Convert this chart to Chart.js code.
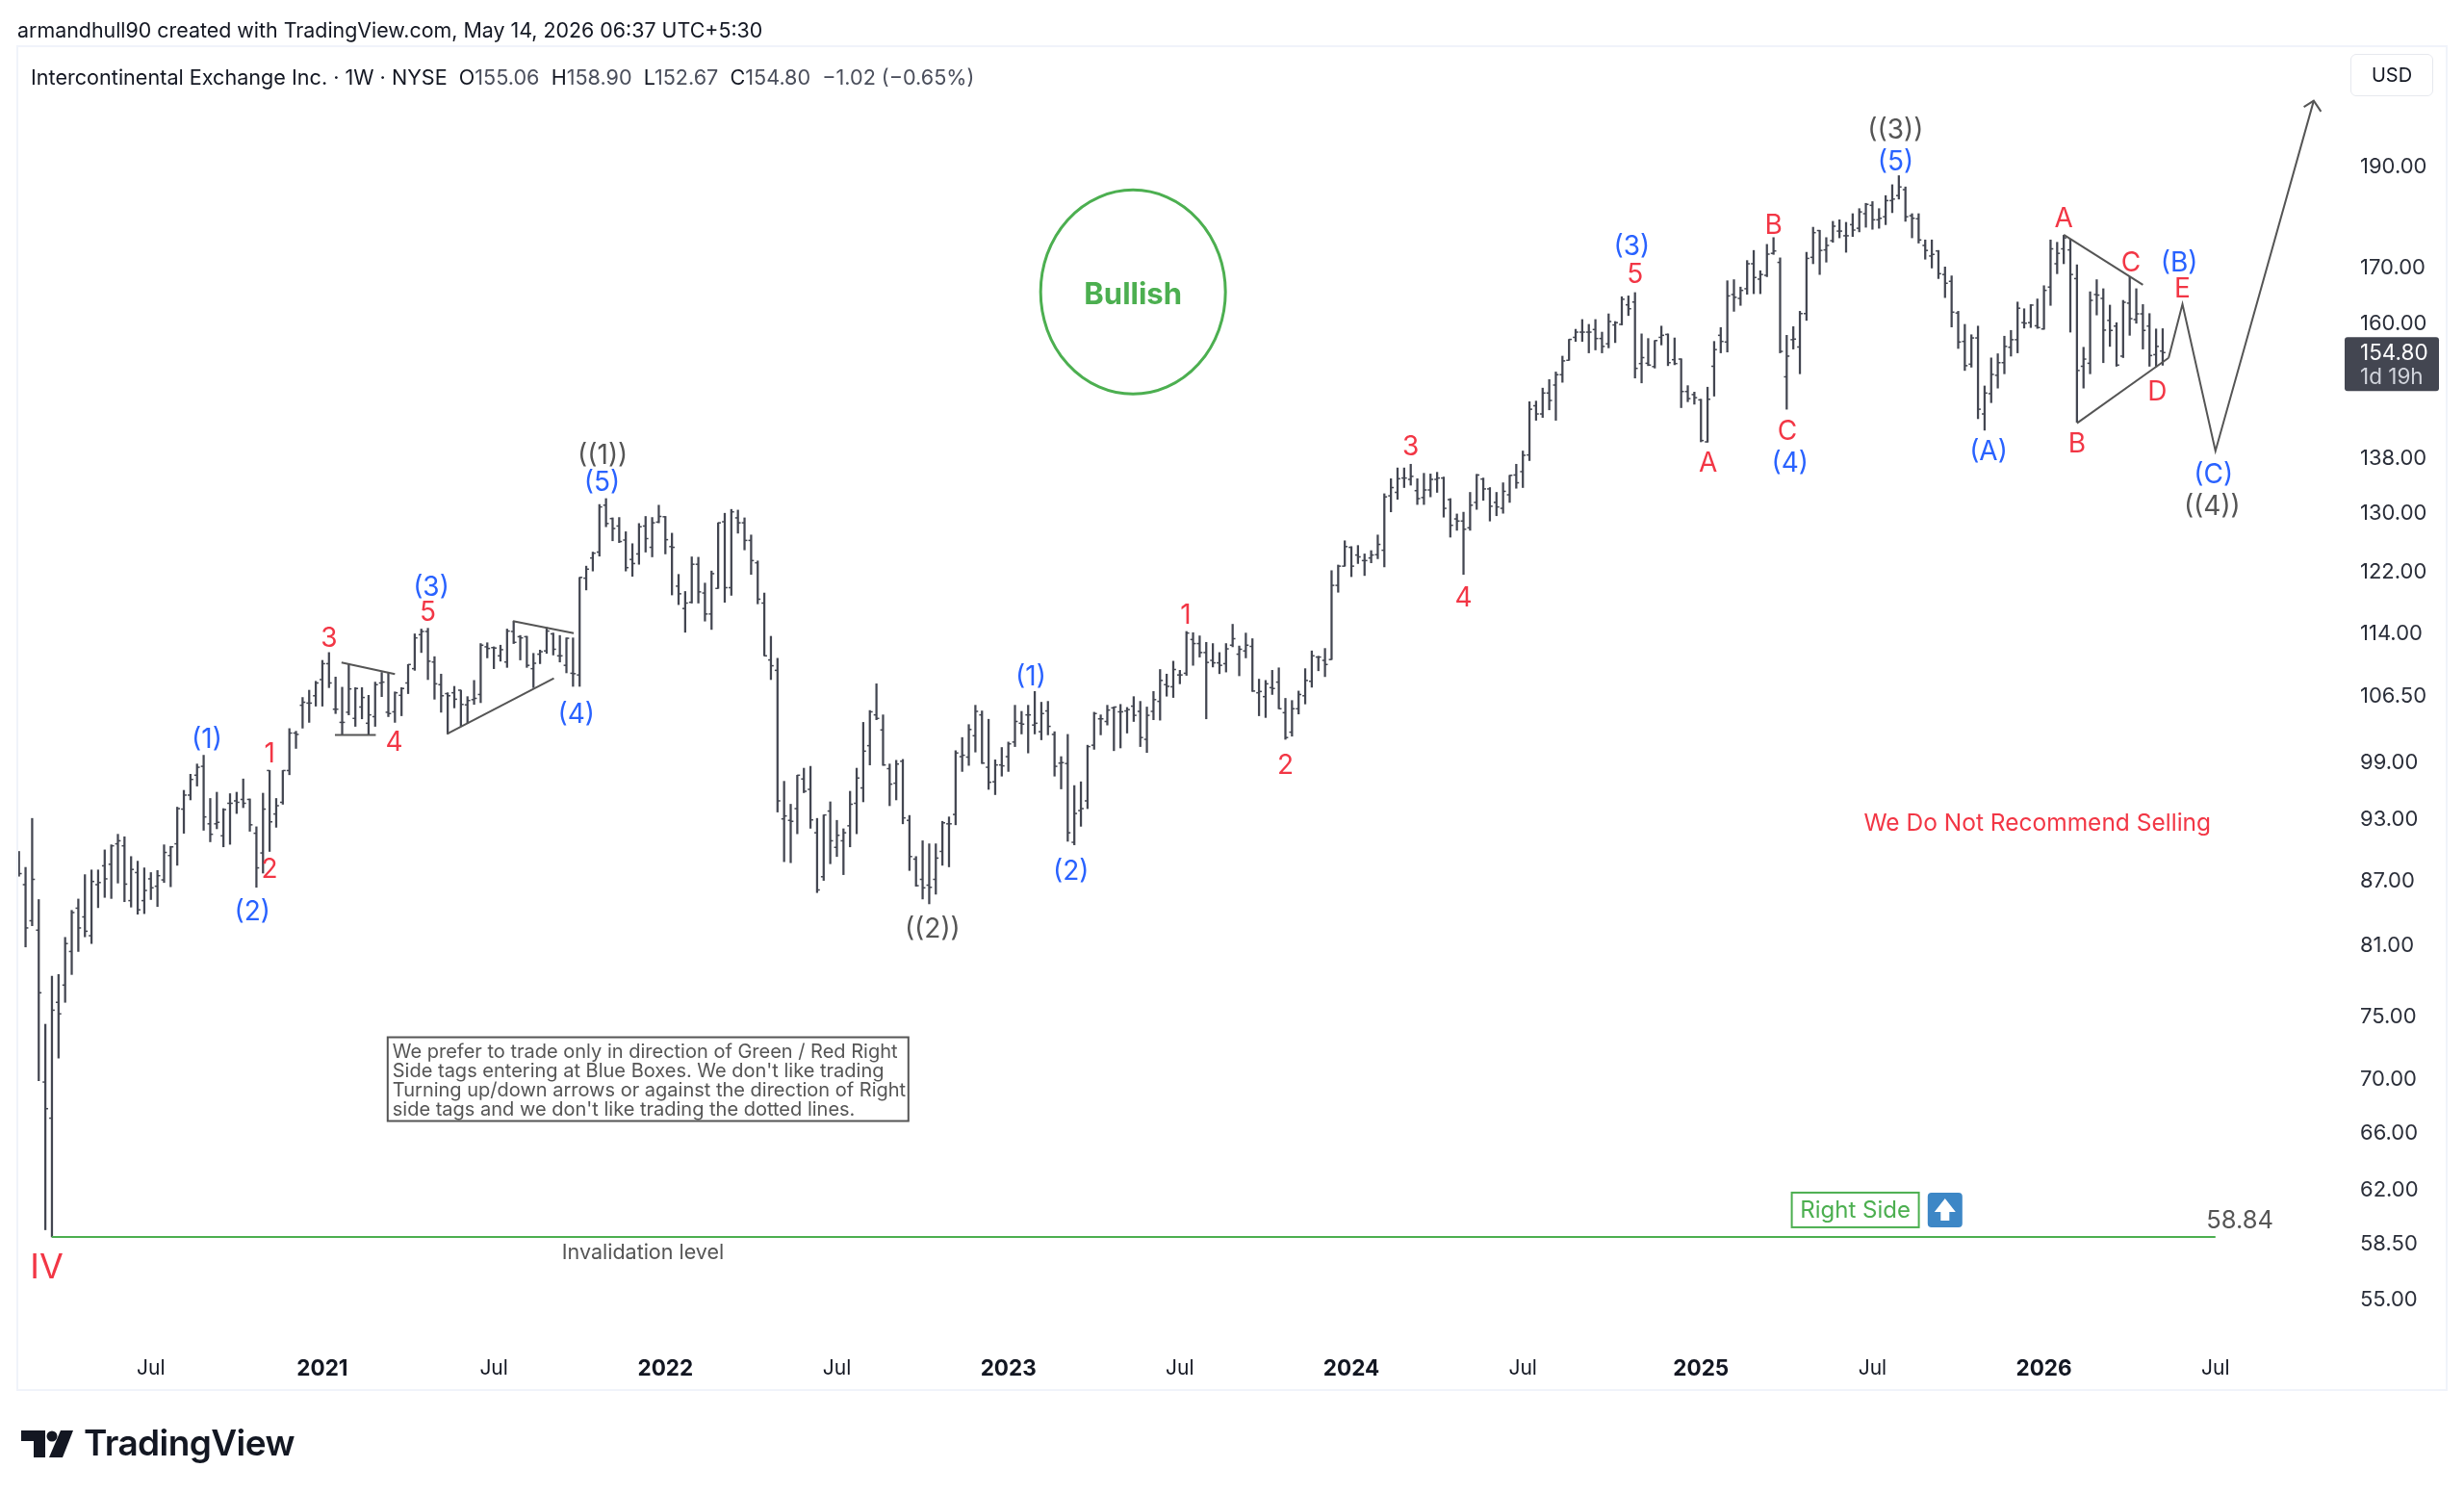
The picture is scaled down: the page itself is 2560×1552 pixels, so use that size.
<!DOCTYPE html>
<html>
<head>
<meta charset="utf-8">
<title>ICE 1W</title>
<script src="https://cdn.jsdelivr.net/npm/chart.js@4/dist/chart.umd.min.js"></script>
<style>
html, body { margin: 0; padding: 0; background: #fff; width: 2560px; height: 1552px; overflow: hidden; font-family: Inter, sans-serif; }
canvas { position: absolute; left: 0; top: 0; }
.abs { position: absolute; white-space: pre; line-height: 1; }
.val { color: #4a4e5b; }
</style>
</head>
<body>
<canvas id="iceChart" width="2560" height="1552"></canvas>
<div class="abs" style="left:18px;top:21px;font-size:21.4px;color:#131722">armandhull90 created with TradingView.com, May 14, 2026 06:37 UTC+5:30</div>
<div class="abs" style="left:32px;top:70px;font-size:21.6px;color:#131722">Intercontinental Exchange Inc. · 1W · NYSE  O<span class="val">155.06</span>  H<span class="val">158.90</span>  L<span class="val">152.67</span>  C<span class="val">154.80</span>  <span class="val">−1.02 (−0.65%)</span></div>
<div class="abs" style="left:2442px;top:56px;width:86px;height:44px;border:1px solid #e6e8ee;border-radius:6px;box-sizing:border-box;font-size:20px;line-height:42px;text-align:center;color:#131722">USD</div>
<svg style="position:absolute;left:22px;top:1486px" width="54" height="28" viewBox="0 0 54 28">
  <path d="M0 0H25V28H13V11H0Z" fill="#131722"/>
  <circle cx="32" cy="6" r="5.5" fill="#131722"/>
  <path d="M41 0H54L43 28H29Z" fill="#131722"/>
</svg>
<div class="abs" style="left:87px;top:1480px;font-size:37px;font-weight:600;letter-spacing:-0.6px;color:#131722">TradingView</div>

<script>
// weekly bars, index 0 = week of 17 Feb 2020
var highs = [
89.7,88.15,93,85.1,74.25,78.25,78.4,81.65,84.1,85.15,
87.45,87.9,87.9,89.85,90.35,91.4,91.15,89.2,88.75,88.1,
87.65,87.85,90.35,90.2,94.15,95.9,97.6,98.7,99.65,95.05,
95.7,94,95.55,95.7,97.1,95,92.15,95.6,98,95.05,
98,102.6,102.3,106.15,107,108.05,110.55,111.5,108.55,107.35,
110.05,107.3,107.3,106.4,107.95,109.1,109,106.8,107.3,110.05,
113.8,114.4,114.5,111,108.9,106.7,107.45,107,106.25,108.15,
112.6,112.7,112.2,112.4,114.4,115.4,113.6,113.5,111.4,111.8,
114.6,113.9,113.6,113.3,113.3,121.05,122.55,124.45,131.1,131.95,
129.2,129.25,127.25,125.6,128.4,129.4,129.25,131,129.4,127.05,
121.45,119.2,123.8,123.75,120.3,121.9,128.5,129.85,130.4,130.3,
129.2,126.8,123.25,119,113.5,110.8,96.85,94.45,97.5,98.25,
98.45,93,93.35,94.7,92.8,91.95,95.8,98.25,103.3,104.65,
107.75,104.15,98.7,99.1,99.2,93.3,89.2,90.75,90.45,90.45,
92.7,93.15,100.15,101.6,103.05,105.25,104.6,103.65,99.15,100.5,
101.1,105.25,104.55,105.25,106.85,105.6,105.7,102.25,99.5,101.95,
96.4,96.8,100.75,104.45,104.15,105.25,105.05,105.35,105,106.25,
105.7,105.05,106.85,109.45,108.9,110.45,109.35,114.1,113.95,113.55,
112.75,112.6,111.5,112.6,115,112.3,113.9,113.2,108.3,108.15,
109.35,109.65,106.05,105.8,106.9,109.55,111.7,111.05,112,121.95,
122.7,126,125.2,125.35,124.2,124.65,126.8,132.65,134.85,136.45,
136.45,137,134.85,135.65,135.55,135.8,135.1,131.95,129.75,130,
132.85,135.5,134.95,133.55,132.85,134.25,135.35,137,139,146.7,
146.8,148.9,150.3,151.55,154.2,157.05,158.8,160.5,159.65,160.5,
158.3,161.5,160.15,164.55,164.7,165.3,158,157.2,156.85,159.35,
158,157.3,153.75,149.3,148.25,147.1,149.05,156.7,159.1,167.45,
167.65,166.3,171.2,173.1,169.3,174.25,175.55,171.7,157.75,159.25,
161.95,172.75,177.55,176.95,175.55,178.7,179,178.5,180.2,181.2,
182.25,182.6,181.2,183.8,186,187.85,185.55,180.2,180.2,175.1,
175.1,173.1,170,168.35,161.95,159.65,157.85,159.35,149.25,153.9,
154.6,157.6,158.6,163.6,162.4,163.15,164.15,166.55,175.1,174.65,
176,175.25,170.4,155.7,165.45,167.65,166,163.05,159.95,163.9,
168.2,166,163.15,161.55,158.85,158.9
];
var lows = [
87.3,80.8,82.7,69.8,59.3,58.84,71.55,76.05,78.4,80.4,
81.7,81.1,84.35,85.3,85.2,86.65,84.9,84.4,83.75,83.8,
85.1,84.45,86.7,86.3,88.35,91.5,94.9,96.35,91.8,90.65,
91.95,90.15,90.4,93.5,94.1,91.7,86.25,87.6,89.7,92.1,
94.45,97.55,100.4,102.65,103.3,105.15,105.15,107.3,104.3,101.9,
104.15,102.85,103.7,101.9,102.85,106.25,103.95,103.3,104.05,106.6,
109.35,111.5,108.25,105.95,104.45,102,104.95,102.85,103.2,105.35,
105.55,110.85,109.55,110.45,109.7,112.6,110.6,109.7,107.3,110.15,
111.4,111.2,110.35,109.05,107.45,107.45,119.4,121.9,123.9,127.95,
126,125.75,121.9,121.2,122.8,124.45,123.8,128.5,124.2,118.75,
117.5,114,117.7,117.7,115.4,114.35,119.6,117.8,118.7,127.05,
124.75,121.45,117.6,111.1,108.25,93.65,88.7,88.6,91.45,95.65,
92,85.75,86.9,88.5,89.2,87.45,90.15,91.45,94.7,98.6,
103.6,98.55,94.3,94.9,92.45,87.85,86.35,85.15,84.7,85.6,
88.35,88.2,92.35,97.9,98.55,100,98.75,96,95.45,97.4,
97.9,100.6,102,99.9,102,101.35,101.9,97.4,96.05,90.7,
90.35,92.2,94,100.3,101.9,103,100.15,100.45,102.1,103.4,
100.6,99.95,103.6,103.55,106.3,106.15,107.75,108.75,109.95,110.95,
103.7,109.75,108.95,109.15,112.2,108.7,110.85,106.85,104.05,103.85,
106.5,104.85,101.4,101.75,104.25,105.4,107.35,109.3,108.6,110.65,
119.1,122.55,121.15,122.9,121.3,123,123.55,122.45,130.05,131.85,
133.55,133.9,131.1,131.1,132.2,132.85,129.3,126.5,127.45,121.45,
127.45,130.4,131.7,128.75,129.5,129.85,131.4,133.45,133.55,137.55,
143.75,144.2,145.4,143.75,149.85,153.5,156.7,156.7,154.75,155.25,
154.75,155.6,156.5,159.55,161.2,150.55,149.75,152.6,152.2,156.1,
152.6,152.75,145.75,146.7,146.3,140.4,140.35,147.6,154.75,154.9,
161.95,163,165,165.1,165.1,168.2,172.35,154.75,145.5,155.4,
151.25,160.35,170.6,168.6,170.9,174.65,175.5,172.75,175.75,176.65,
177.55,177.15,177.35,178.05,180.4,183.1,178.7,175.5,174.5,171.45,
169.8,167.85,164.4,159.2,155.5,151.8,152.35,144,142.2,146.55,
148.9,151.25,154.2,154.75,159,159.1,158.95,158.8,163,168.75,
170.6,158.3,143.45,148.9,151.25,161.3,153.1,155.85,152.5,153.95,
157.75,159.85,155.4,152.5,152.4,152.67
];
var opens = [
88.6,86.5,83.15,82.3,69.7,67,76.05,77.5,80.4,84.3,
83.5,81.8,86.5,88.3,88.45,90.45,90.25,85,87.65,85,
87.05,86.35,86.95,89.3,90.45,93.95,95.4,97.5,98.45,92.45,
92.45,91.25,94.55,94.8,94.95,94.95,91.5,89.55,98,93.45,
94.65,98,102.1,105.25,105.5,106.35,108.25,110.15,104.8,103.3,
104.45,103.75,105.05,103.2,103.95,107.85,104.45,104.5,106.4,107.85,
109.55,113.7,114.1,110.35,107.65,106.6,106.7,107,105.3,105.9,
106.5,112.2,112.1,111.1,110.35,114.1,113.45,113.45,109.55,111.3,
111.7,113.8,111.1,109.95,109,108.8,120.95,123.65,124.45,131,
129.1,128.05,126.1,123.45,124.2,128.05,125.1,128.6,129.35,125.2,
119.9,117,117.8,122.8,119,116.3,119.6,128.65,119.7,129.2,
128.5,126.05,123,117.7,110.6,109.35,92.95,92.8,94,97.1,
96,91.55,87.25,93.75,90.1,90.75,92.25,94.55,96.15,100.7,
104.15,102.45,98.2,96.65,99,92.8,88.95,87,86.45,87,
89.7,92.45,93.4,99.5,99.45,101.8,104.15,98.35,96.8,98.6,
99.5,101.1,103.2,104.15,103,102.25,104.6,101.95,98.8,98.75,
90.6,93.8,94.8,100.75,103.7,103.4,104.95,104.5,104.6,105.15,
104.55,101.4,104.55,105.7,107.65,107.4,108.8,109,113.1,112.6,
111.5,110.55,110.25,110.15,112.4,111.3,111.7,112.25,106.7,106.25,
107.3,107.95,104.4,102.2,104.85,106.35,108.05,110.95,110.55,110.65,
120,122.55,125.1,124.05,123.3,123.65,124.1,124.7,132.35,132.85,
134.95,134.75,133.1,132.1,133.2,134.75,134.95,131.8,129.05,128.75,
127.8,131.4,134.8,133.35,131.4,130.55,132.5,135.4,135.9,138.4,
146.05,144.75,148.1,149.4,151.1,153.5,157.4,158.3,158.3,158.75,
157.2,156.3,159.55,159.65,163.1,163.6,152.95,153,152.45,157.4,
157.9,153.6,153.7,148.35,147.85,147,140.4,152.5,157.75,156.6,
164.95,164.25,166,170.6,167.75,168.45,172.55,170.85,150.75,157,
155.75,161.55,171.8,176.9,173.2,174.96,176.8,175.9,178.05,177.35,
180.2,181.85,179,179.6,182.8,183.8,185,179.8,179.2,174.05,
172.05,173,168.6,167.35,161.65,156.7,152.85,157.3,144.75,148,
151,153.1,155.7,157,159.95,159.95,159.4,158.85,166.3,170.6,
173.4,173.2,167.85,152.5,153,164.95,164.25,160.35,159.35,154.2,
163.4,160.5,161.5,159.35,154.45,155.06
];
var closes = [
87.55,82.5,87,76.85,67.7,75.4,75.1,81.1,83.9,82.5,
82.2,86.8,86.7,87.05,90.25,90.75,86.55,87.95,84.15,85.95,
86.2,87.35,89.6,90.15,94,95.4,97.05,98.35,93.15,91.4,
92.6,93.9,94.55,94.65,94.55,92.35,88.1,93.95,92.65,94.3,
98,102.1,101.95,105.6,105.5,107.85,110.15,107.85,104.8,103.3,
107.15,107.2,106.15,104.15,107.65,107.95,104.3,106.7,107.2,110.05,
113.3,114.1,110.45,107.75,106.35,106.35,105.95,105.35,105.8,106.05,
112.4,112,112.05,111.85,114.15,112.75,113.3,109.95,110.2,111.6,
114.15,111.9,111.1,113.25,108.95,121.05,122.15,124.3,130.75,128.4,
127.7,125.9,122.35,122.9,127.95,126.3,128.5,129.4,126.15,125.1,
118.9,117.7,122.8,119.15,116.3,121.55,128.5,119.7,130.05,128.5,
126.05,123.3,118.2,111.1,109.9,94.8,93.25,92.7,97.5,95.8,
92.85,86,93.35,90.75,91.3,91.55,94.45,97.2,100.1,104.5,
103.75,98.6,96.55,98.7,93.05,89.2,86.4,86.2,86.25,89.05,
92.55,92.45,99.9,99.65,102.5,104.55,98.8,96.75,98.6,98.5,
100.9,103.4,103.1,104.15,103.2,104.3,102.85,98.45,98.85,91.55,
93.5,94,100.6,104.3,103.7,104.7,105.05,104.5,104.75,104.1,
101.6,104.1,105.9,108.15,107.45,109.45,108.8,113.9,112.6,111.5,
110.3,110.25,109.95,111.95,113.2,111.9,112.4,106.9,106.85,107.75,
107.2,104.85,101.6,104.85,106.5,108.15,111.1,110.95,110.05,120,
122.55,125.2,122.55,123.8,123.3,124.05,125.5,132.2,133.55,134.85,
134.95,135.2,131.95,133.2,134.75,134.95,130.55,128.15,128.75,127.6,
131,135.4,133.35,130.85,130.75,133,135.35,134.25,138.35,145.5,
144.75,148.1,146.9,151.1,153.4,157.05,158.3,158.3,158.3,157.2,
155.85,160.15,159.95,164.1,162.4,152.15,153.95,152.7,156.85,157.75,
153.1,152.95,148.35,147.2,147.35,140.6,147.1,155.3,156.7,164.7,
164.45,165.7,170.6,168.05,168.6,172.4,173,155,154.2,157.1,
161.55,171.6,176.5,173.1,174.05,177.75,176.8,175.9,177,180.55,
182.05,179,179.3,182.8,183.1,185.55,179.6,179.3,175.1,173.1,
172.35,168.75,167,161.8,156.6,152.6,157.3,145.5,148.1,151.15,
153.1,155.85,157,162.5,159.85,163.05,159.1,165.7,173.4,172.55,
175.5,168.6,151.8,153.7,163.9,164.85,158.65,158.6,152.7,163.55,
160.65,161.5,158.6,154.3,155.85,154.8
];

var priceTicks = [190, 170, 160, 138, 130, 122, 114, 106.5, 99, 93, 87, 81, 75, 70, 66, 62, 58.5, 55];
var timeTicks = [20, 46, 72, 98, 124, 150, 176, 202, 228, 255, 281, 307, 333];
var timeTickLabels = ['Jul', '2021', 'Jul', '2022', 'Jul', '2023', 'Jul', '2024', 'Jul', '2025', 'Jul', '2026', 'Jul'];

var lastPrice = 154.80;
var invalidationPrice = 58.84;

// drawn lines as [week index, price]
var invalidationLine = [[4.98, 58.84], [333, 58.84]];
var triangle1Top = [[48.9, 110.3], [57, 108.9]];
var triangle1Base = [[47.9, 101.9], [54.1, 101.9]];
var triangle2Top = [[74.9, 115.4], [84.1, 113.9]];
var triangle2Base = [[64.9, 102], [81.1, 108.4]];
var triangle3Top = [[310, 176.1], [322, 166.7]];
var triangle3Base = [[312, 143.3], [325.9, 153.9]];
var forecastPath = [[325.9, 153.9], [328, 163.2], [333, 139], [347.9, 203.9]];
var arrowHead = [[346.4, 202.5], [347.9, 203.9], [349, 201.5]];

// wave labels
var blueLabels = [
    ['(5)', 88.4, 134.5], ['(1)', 28.5, 101.6], ['(2)', 35.4, 84.1], ['(3)', 62.5, 120], ['(4)', 84.5, 104.4],
    ['(1)', 153.4, 108.7], ['(2)', 159.5, 87.9], ['(3)', 244.5, 174.2], ['(4)', 268.5, 137.45], ['(5)', 284.5, 191],
    ['(A)', 298.6, 139.2], ['(B)', 327.5, 171.1], ['(C)', 332.7, 135.7]
];
var redLabels = [
    ['1', 38, 100], ['2', 38, 88.1], ['3', 47, 113.45], ['4', 56.9, 101.25], ['5', 62, 116.7],
    ['1', 176.9, 116.35], ['2', 192, 98.7], ['3', 211, 139.8], ['4', 219, 118.6], ['5', 245, 168.8],
    ['A', 256.1, 137.4], ['B', 266, 178.2], ['C', 268.1, 142.2],
    ['A', 310, 179.5], ['B', 312, 140.35], ['C', 320.2, 171.1], ['D', 324.2, 148.5], ['E', 328, 166.3]
];
var greyLabels = [
    ['((1))', 88.5, 138.55], ['((2))', 138.5, 82.55], ['((3))', 284.5, 197.7], ['((4))', 332.5, 131]
];
var noteLines = [
    'We prefer to trade only in direction of Green / Red Right',
    "Side tags entering at Blue Boxes. We don't like trading",
    'Turning up/down arrows or against the direction of Right',
    "side tags and we don't like trading the dotted lines."
];

var ink = '#434651';
var grey = '#555555';
var blue = '#2962ff';
var red = '#f23645';
var green = '#4caf50';

function points(list) {
    return list.map(function (p) { return { x: p[0], y: p[1] }; });
}

function lineSet(list, color) {
    return {
        type: 'line',
        data: points(list),
        borderColor: color || grey,
        borderWidth: 2,
        pointRadius: 0,
        tension: 0,
        fill: false,
        order: 0
    };
}

function tickSet(values, shift) {
    return {
        type: 'scatter',
        data: values.map(function (v, i) { return { x: i + shift, y: v }; }),
        pointStyle: 'line',
        pointRadius: 1.5,
        borderColor: ink,
        backgroundColor: ink,
        pointBorderWidth: 1.5,
        order: 2
    };
}

function text(ctx, str, x, y, color, font, align) {
    ctx.font = font;
    ctx.fillStyle = color;
    ctx.textAlign = align || 'center';
    ctx.textBaseline = 'middle';
    ctx.fillText(str, x, y);
}

var overlay = {
    id: 'overlay',
    afterDraw: function (chart) {
        var ctx = chart.ctx;
        var xs = chart.scales.x;
        var ys = chart.scales.y;
        var px = function (v) { return xs.getPixelForValue(v); };
        var py = function (v) { return ys.getPixelForValue(v); };
        ctx.save();

        // pane frame
        ctx.strokeStyle = '#f0f3fa';
        ctx.lineWidth = 2;
        ctx.strokeRect(18, 48, 2524, 1396);

        blueLabels.forEach(function (l) { text(ctx, l[0], px(l[1]), py(l[2]) + 2, blue, '28px Inter'); });
        redLabels.forEach(function (l) { text(ctx, l[0], px(l[1]), py(l[2]) + 2, red, '28px Inter'); });
        greyLabels.forEach(function (l) { text(ctx, l[0], px(l[1]), py(l[2]) + 2, grey, '28px Inter'); });
        text(ctx, 'IV', px(4.2), py(56.9), red, '36px Inter');

        // bullish circle
        ctx.strokeStyle = green;
        ctx.lineWidth = 3;
        ctx.beginPath();
        ctx.ellipse(px(168.9), py(165.4), 96, 106, 0, 0, Math.PI * 2);
        ctx.stroke();
        text(ctx, 'Bullish', px(168.9), py(164.9), green, 'bold 31px Inter');

        text(ctx, 'We Do Not Recommend Selling', px(306), py(92.45), red, '24.5px Inter');
        text(ctx, 'Invalidation level', px(94.6), py(57.8), grey, '21.5px Inter');
        text(ctx, invalidationPrice.toFixed(2), px(336.7), py(59.9), grey, '25.5px Inter');

        // note box
        var nx = px(55.9), ny = py(73.2);
        ctx.strokeStyle = grey;
        ctx.lineWidth = 2;
        ctx.strokeRect(nx, ny, 541, 87);
        noteLines.forEach(function (line, i) {
            text(ctx, line, nx + 5, ny + 15 + i * 20, grey, '20px Inter', 'left');
        });

        // right side tag
        var rx = px(278.4), ry = py(60.6);
        ctx.strokeStyle = green;
        ctx.strokeRect(rx - 66, ry - 18, 132, 36);
        text(ctx, 'Right Side', rx, ry + 1, green, '24px Inter');

        var ax = px(292), ay = py(60.6);
        ctx.fillStyle = '#3d87c6';
        ctx.beginPath();
        ctx.roundRect(ax - 18, ay - 18, 36, 36, 4);
        ctx.fill();
        ctx.fillStyle = '#ffffff';
        ctx.beginPath();
        ctx.moveTo(ax, ay - 12);
        ctx.lineTo(ax + 11, ay + 2);
        ctx.lineTo(ax + 4.5, ay + 2);
        ctx.lineTo(ax + 4.5, ay + 11);
        ctx.lineTo(ax - 4.5, ay + 11);
        ctx.lineTo(ax - 4.5, ay + 2);
        ctx.lineTo(ax - 11, ay + 2);
        ctx.closePath();
        ctx.fill();

        // last price tag on the axis
        var ty = py(lastPrice);
        ctx.fillStyle = ink;
        ctx.beginPath();
        ctx.roundRect(2436, ty - 16, 98, 56, 3);
        ctx.fill();
        text(ctx, lastPrice.toFixed(2), 2452, ty + 1, '#ffffff', '22.5px Inter', 'left');
        text(ctx, '1d 19h', 2452, ty + 26, '#d1d4dc', '22.5px Inter', 'left');

        ctx.restore();
    }
};

var iceCtx = document.getElementById('iceChart').getContext('2d');
Chart.defaults.font.family = 'Inter';

var iceChart = new Chart(iceCtx, {
    type: 'bar',
    data: {
        datasets: [
            {
                type: 'bar',
                data: highs.map(function (h, i) { return { x: i, y: [lows[i], h] }; }),
                backgroundColor: ink,
                barThickness: 1.6,
                order: 2
            },
            tickSet(opens, -0.2),
            tickSet(closes, 0.2),
            lineSet(invalidationLine, green),
            lineSet(triangle1Top),
            lineSet(triangle1Base),
            lineSet(triangle2Top),
            lineSet(triangle2Base),
            lineSet(triangle3Top),
            lineSet(triangle3Base),
            lineSet(forecastPath),
            lineSet(arrowHead)
        ]
    },
    options: {
        responsive: false,
        animation: false,
        events: [],
        layout: {
            padding: { left: 18, top: 48, right: 18, bottom: 105 }
        },
        scales: {
            x: {
                type: 'linear',
                offset: false,
                min: -0.248,
                max: 353.17,
                grid: { display: false },
                border: { display: false },
                afterBuildTicks: function (axis) {
                    axis.ticks = timeTicks.map(function (v) { return { value: v }; });
                },
                afterFit: function (axis) {
                    axis.height = 52;
                },
                ticks: {
                    autoSkip: false,
                    maxRotation: 0,
                    padding: 6,
                    color: '#131722',
                    font: function (c) {
                        var isYear = c.tick && timeTickLabels[timeTicks.indexOf(c.tick.value)] !== 'Jul';
                        return { size: isYear ? 22.5 : 21, weight: isYear ? 'bold' : 'normal' };
                    },
                    callback: function (value, index) {
                        return timeTickLabels[index];
                    }
                }
            },
            y: {
                type: 'logarithmic',
                position: 'right',
                min: 52.4,
                max: 216.43,
                grid: { display: false },
                border: { display: false },
                afterBuildTicks: function (axis) {
                    axis.ticks = priceTicks.map(function (v) { return { value: v }; });
                },
                afterFit: function (axis) {
                    axis.width = 102;
                },
                ticks: {
                    autoSkip: false,
                    padding: 4,
                    labelOffset: 1.5,
                    color: '#2a2e39',
                    font: { size: 22 },
                    callback: function (value) {
                        return value.toFixed(2);
                    }
                }
            }
        },
        plugins: {
            legend: { display: false },
            tooltip: { enabled: false },
            title: { display: false }
        }
    },
    plugins: [overlay]
});
</script>
</body>
</html>
